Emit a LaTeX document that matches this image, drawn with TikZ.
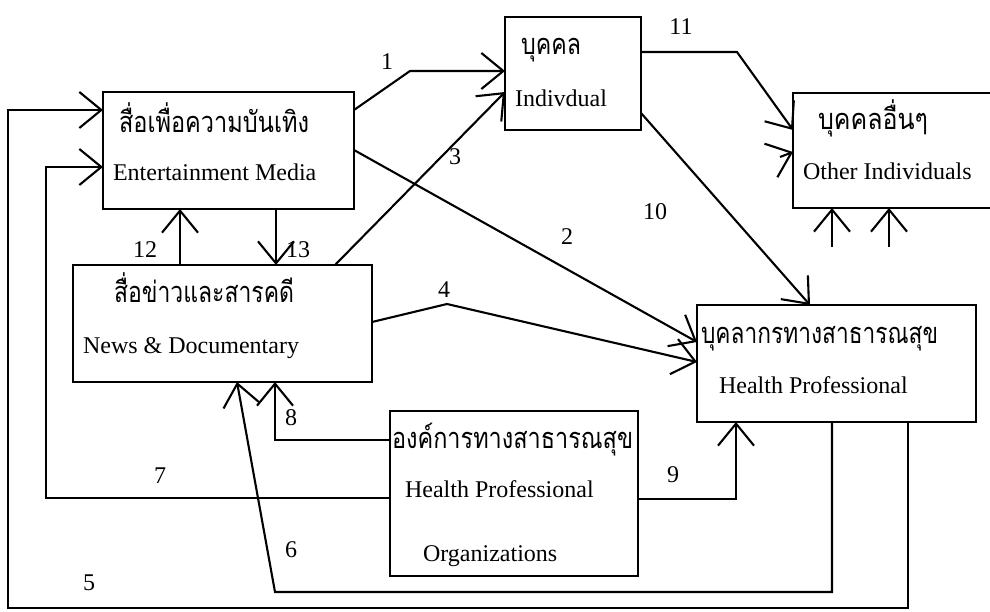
\documentclass[tikz,border=0pt]{standalone}
\usepackage{fontspec}
\usepackage{graphicx}
\setmainfont{Liberation Serif}
\newfontfamily\thaifont[Script=Thai]{Loma}
\usetikzlibrary{arrows.meta}
\newcommand{\thw}[2]{\resizebox{#1pt}{\height}{\thaifont #2}}
\begin{document}
\begin{tikzpicture}[x=1pt,y=-1pt,
  line width=2.1pt,
  box/.style={draw,rectangle,line width=2.4pt,inner sep=0pt,outer sep=0pt},
  arr/.style={-{Straight Barb[length=22pt,width=36pt]}},
  eng/.style={anchor=base west,inner sep=0pt,font=\fontsize{24}{28}\selectfont},
  thai/.style={anchor=base west,inner sep=0pt,font=\fontsize{29}{32}\selectfont},
  num/.style={inner sep=0pt,font=\fontsize{24}{28}\selectfont}]
\useasboundingbox (0,0) rectangle (990,612);
% boxes
\node[box,minimum width=251pt,minimum height=117pt] (em) at (228.5,150.5) {};
\node[box,minimum width=136pt,minimum height=113pt] (ind) at (573,73.5) {};
\node[box,minimum width=207pt,minimum height=115pt] (oi) at (896.5,150.5) {};
\node[box,minimum width=299pt,minimum height=117pt] (nd) at (222.5,323.5) {};
\node[box,minimum width=279pt,minimum height=117pt] (hp) at (836.5,363.5) {};
\node[box,minimum width=248pt,minimum height=165pt] (hpo) at (514,493.5) {};
% texts
\node[thai] (emT) at (118,133) {\thw{190}{สื่อเพื่อความบันเทิง}};
\node[eng] (emE) at (112,181) {Entertainment Media};
\node[thai] (indT) at (520,55) {\thw{60}{บุคคล}};
\node[eng] (indE) at (514,107) {Indivdual};
\node[thai] (oiT) at (817,130) {\thw{110}{บุคคลอื่นๆ}};
\node[eng] (oiE) at (802,180) {Other Individuals};
\node[thai] (ndT) at (113,302) {\thw{180}{สื่อข่าวและสารคดี}};
\node[eng] (ndE) at (82,353) {News \& Documentary};
\node[thai] (hpT) at (700,343) {\thw{237}{บุคลากรทางสาธารณสุข}};
\node[eng] (hpE) at (718,393) {Health Professional};
\node[thai] (hpoT) at (391,448) {\thw{241}{องค์การทางสาธารณสุข}};
\node[eng] (hpoE) at (404,497) {Health Professional};
\node[eng] (hpoO) at (422,561) {Organizations};
% free ends of stub arrows
\coordinate (s1) at (832,247);
\coordinate (s2) at (889,247);
\coordinate (s3) at (780,157);
% connectors
\draw[arr] (em.east |- 0,110) -- (410,71) -- (ind.west |- 0,71);
\draw[arr] (em.east |- 0,150) -- (hp.west |- 0,342);
\draw[arr] (nd.north -| 335,0) -- (ind.west |- 0,92);
\draw[arr] (nd.east |- 0,322) -- (447,304) -- (hp.west |- 0,362);
\draw[arr] (hp.south -| 908,0) -- (908,608) -- (8,608) -- (8,110) -- (em.west |- 0,110);
\draw[arr] (hp.south -| 832,0) -- (832,592) -- (275,592) -- (nd.south -| 237,0);
\draw[arr] (hpo.west |- 0,498) -- (46,498) -- (46,167) -- (em.west |- 0,167);
\draw[arr] (hpo.west |- 0,440) -- (275,440) -- (nd.south -| 275,0);
\draw[arr] (hpo.east |- 0,499) -- (736,499) -- (hp.south -| 736,0);
\draw[arr] (ind.east |- 0,113) -- (hp.north -| 810,0);
\draw[arr] (ind.east |- 0,52) -- (737,52) -- (oi.west |- 0,130);
\draw[arr] (nd.north -| 180,0) -- (em.south -| 180,0);
\draw[arr] (em.south -| 276,0) -- (nd.north -| 276,0);
\draw[arr] (s1) -- (oi.south -| s1);
\draw[arr] (s2) -- (oi.south -| s2);
\draw[arr] (s3) -- (oi.west |- 0,152);
% labels
\node[num] (l1) at (387,62) {1};
\node[num] (l2) at (567,237) {2};
\node[num] (l3) at (455,157) {3};
\node[num] (l4) at (444,290) {4};
\node[num] (l5) at (89,583) {5};
\node[num] (l6) at (291,550) {6};
\node[num] (l7) at (160,476) {7};
\node[num] (l8) at (291,418) {8};
\node[num] (l9) at (673,475) {9};
\node[num] (l10) at (655,212) {10};
\node[num] (l11) at (681,27) {11};
\node[num] (l12) at (145,250) {12};
\node[num] (l13) at (298,250) {13};
\end{tikzpicture}
\end{document}
